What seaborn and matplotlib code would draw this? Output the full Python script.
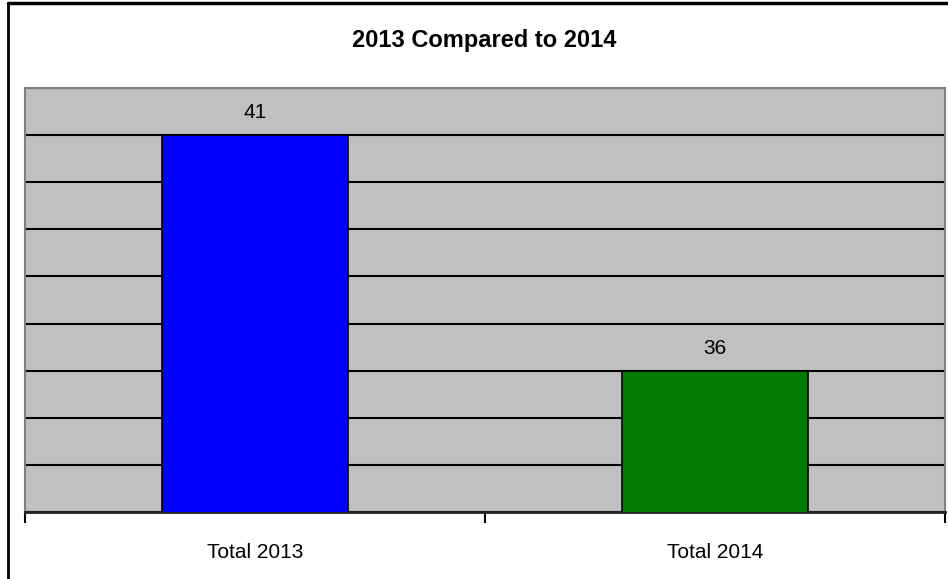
import matplotlib
matplotlib.use("Agg")
import matplotlib.pyplot as plt
import seaborn as sns
import pandas as pd
from matplotlib.lines import Line2D

# data
categories = ['Total 2013', 'Total 2014']
values = [41, 36]
bar_colors = ['#0000FF', '#007A00']
title = '2013 Compared to 2014'

sns.set_style('white')
plt.rcParams['font.family'] = ['Liberation Sans', 'DejaVu Sans']
plt.rcParams['text.color'] = 'black'
plt.rcParams['xtick.color'] = 'black'
plt.rcParams['xtick.labelcolor'] = 'black'

df = pd.DataFrame({'cat': categories, 'val': values})

fig = plt.figure(figsize=(9.48, 5.79), dpi=100)
ax = fig.add_axes([25 / 948, 1 - 512 / 579, 920 / 948, (512 - 88) / 579])
ax.set_facecolor('#C0C0C0')

sns.barplot(data=df, x='cat', y='val', hue='cat', palette=bar_colors,
            saturation=1, width=0.404, edgecolor='black', linewidth=1.2,
            legend=False, ax=ax, zorder=3)

ax.set_ylim(33, 42)
ax.set_xlim(-0.5, 1.5)
ax.set_yticks(range(33, 43))
ax.yaxis.grid(True, color='black', linewidth=1.5, zorder=1)
ax.set_axisbelow(True)
ax.tick_params(axis='y', left=False, labelleft=False)

# tick marks at category boundaries, labels at centres
ax.set_xticks([0, 1])
ax.set_xticklabels(categories, fontsize=15)
ax.set_xticks([-0.5, 0.5, 1.5], minor=True)
ax.tick_params(axis='x', which='major', bottom=False, length=0, pad=22)
ax.tick_params(axis='x', which='minor', bottom=True, length=8, width=1.5,
               color='black')
ax.set_xlabel('')
ax.set_ylabel('')

for s in ['top', 'right', 'left']:
    ax.spines[s].set_color('#808080')
    ax.spines[s].set_linewidth(1.5)
ax.spines['bottom'].set_color('#222222')
ax.spines['bottom'].set_linewidth(2)

for bar, v in zip(ax.patches, values):
    ax.annotate(str(v), (bar.get_x() + bar.get_width() / 2, bar.get_height()),
                xytext=(0, 16), textcoords='offset points', ha='center',
                va='center', fontsize=15, color='black')

fig.text(484 / 948, 1 - 40 / 579, title, ha='center', va='center',
         fontsize=17, fontweight='bold')

# outer chart border (cut off on right and bottom)
fig.add_artist(Line2D([8 / 948, 8 / 948], [0, 1 - 3 / 579], color='black',
                      linewidth=2, transform=fig.transFigure))
fig.add_artist(Line2D([8 / 948, 1], [1 - 3 / 579, 1 - 3 / 579], color='black',
                      linewidth=2.5, transform=fig.transFigure))

fig.savefig('out.png', dpi=100)
